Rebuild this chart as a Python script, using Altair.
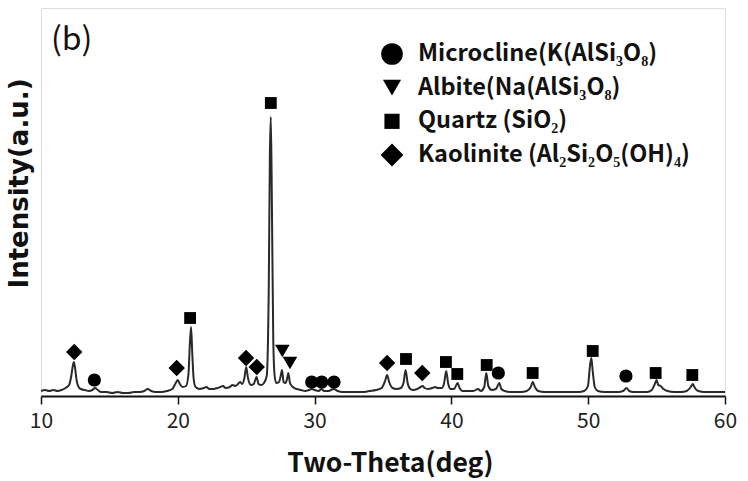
import altair as alt
import pandas as pd

# XRD trace (2-theta in degrees, intensity in a.u.)
two_theta = [
    10.0, 10.3, 10.6, 10.9, 11.2, 11.5, 11.8, 12.05, 12.2, 12.3, 12.4, 12.5, 12.6, 12.75, 12.9,
    13.2, 13.5, 13.75, 13.95, 14.15, 14.4, 14.8, 15.2, 15.6, 16.0, 16.4, 16.8, 17.2, 17.55, 17.8,
    18.05, 18.4, 18.8, 19.2, 19.6, 19.85, 20.0, 20.15, 20.35, 20.6, 20.78, 20.88, 20.97, 21.06, 21.16,
    21.3, 21.6, 21.9, 22.1, 22.3, 22.6, 22.9, 23.1, 23.3, 23.5, 23.8, 24.0, 24.2, 24.4, 24.55,
    24.7, 24.87, 25.0, 25.13, 25.35, 25.55, 25.76, 25.9, 26.1, 26.3, 26.5, 26.65, 26.73, 26.8, 26.88,
    26.98, 27.08, 27.2, 27.4, 27.52, 27.62, 27.73, 27.88, 28.0, 28.08, 28.2, 28.4, 28.7, 29.0, 29.3,
    29.6, 29.8, 30.0, 30.3, 30.5, 30.7, 31.0, 31.4, 31.7, 32.0, 32.5, 33.0, 33.5, 34.0, 34.5,
    34.9, 35.15, 35.3, 35.45, 35.7, 36.0, 36.3, 36.5, 36.65, 36.8, 37.0, 37.2, 37.5, 37.75, 37.9,
    38.05, 38.3, 38.6, 38.8, 39.0, 39.3, 39.47, 39.62, 39.77, 39.95, 40.2, 40.45, 40.6, 40.8, 41.2,
    41.6, 41.95, 42.15, 42.4, 42.55, 42.7, 42.95, 43.25, 43.5, 43.65, 43.9, 44.3, 44.7, 45.1, 45.5,
    45.8, 45.95, 46.1, 46.35, 46.8, 47.3, 47.8, 48.3, 48.8, 49.3, 49.7, 49.98, 50.13, 50.23, 50.33,
    50.48, 50.7, 51.2, 51.7, 52.2, 52.55, 52.8, 53.0, 53.3, 53.8, 54.3, 54.65, 54.87, 55.0, 55.12,
    55.3, 55.5, 55.8, 56.3, 56.8, 57.2, 57.5, 57.65, 57.8, 58.05, 58.5, 59.0, 59.5, 60.0,
]
intensity = [
    5, 6, 5, 6, 5, 6, 8, 11, 19, 28, 34, 27, 16, 9, 7,
    6, 5, 6, 8, 6, 4, 4, 3, 4, 3, 3, 4, 4, 5, 7,
    5, 4, 4, 5, 7, 13, 16, 12, 9, 10, 22, 52, 69, 42, 17,
    9, 7, 8, 9, 7, 7, 8, 9, 10, 8, 9, 11, 10, 12, 14,
    12, 18, 29, 18, 11, 12, 19, 12, 11, 13, 20, 110, 240, 279, 190,
    55, 20, 13, 14, 20, 26, 14, 13, 18, 23, 13, 9, 7, 6, 5,
    6, 7, 6, 5, 7, 5, 5, 7, 5, 4, 4, 4, 4, 5, 6,
    8, 15, 21, 14, 8, 7, 8, 13, 26, 13, 7, 6, 7, 9, 10,
    8, 7, 8, 9, 8, 8, 13, 25, 12, 7, 7, 13, 8, 5, 5,
    5, 7, 5, 9, 23, 10, 6, 7, 13, 7, 5, 4, 4, 4, 5,
    9, 14, 9, 5, 4, 4, 4, 4, 4, 4, 5, 10, 30, 38, 25,
    9, 5, 4, 4, 4, 5, 8, 5, 4, 4, 4, 6, 12, 16, 11,
    10, 7, 5, 4, 4, 5, 9, 12, 8, 5, 4, 4, 4, 4,
]

# Phases (legend order)
phase_names = [
    "Microcline(K(AlSi\u2083O\u2088)",
    "Albite(Na(AlSi\u2083O\u2088)",
    "Quartz (SiO\u2082)",
    "Kaolinite (Al\u2082Si\u2082O\u2085(OH)\u2084)",
]

# Phase markers on the pattern
marker_phase = [0, 0, 0, 0, 0, 0,
                1, 1,
                2, 2, 2, 2, 2, 2, 2, 2, 2, 2,
                3, 3, 3, 3, 3, 3]
marker_2theta = [13.9, 29.79, 30.52, 31.42, 43.43, 52.76,
                 27.64, 28.2,
                 20.9, 26.8, 36.68, 39.6, 40.43, 42.58, 45.94, 50.33, 54.93, 57.61,
                 12.43, 19.92, 24.99, 25.77, 35.3, 37.87]
marker_height = [16, 14, 14, 14, 23, 20,
                 45, 33,
                 78, 293, 37, 34, 22, 31, 23, 45, 23, 21,
                 44, 28, 38, 29, 33, 23]

x_ticks = [10, 20, 30, 40, 50, 60]

# ---- styles ----
phase_shapes = ["circle", "triangle-down", "square", "diamond"]
plot_sizes = [175, 215, 140, 270]
legend_sizes = [470, 330, 230, 520]
LEGEND_FONT = "Noto Sans CJK KR"

line_df = pd.DataFrame({"two_theta": two_theta, "intensity": intensity})
mk_df = pd.DataFrame({
    "phase": [phase_names[i] for i in marker_phase],
    "two_theta": marker_2theta,
    "intensity": marker_height,
})
legend_df = pd.DataFrame({"phase": phase_names, "row": list(range(len(phase_names)))})

x_scale = alt.Scale(domain=[10, 60], nice=False, zero=False)
y_scale = alt.Scale(domain=[0, 388], nice=False, zero=False)
shape_scale = alt.Scale(domain=phase_names, range=phase_shapes)
row_scale = alt.Scale(type="point", domain=[0, 1, 2, 3], range=[46, 147], padding=0)

x_axis = alt.Axis(
    values=x_ticks, format="d", grid=False, domain=True, domainColor="#111", domainWidth=1.8,
    ticks=True, tickSize=8, tickColor="#111", tickWidth=1.5,
    labelFont="Noto Sans CJK KR", labelFontSize=21, labelColor="#222", labelPadding=6,
    labelFlush=False,
    title="Two-Theta(deg)", titleFont="Noto Sans CJK KR", titleFontSize=26.5, titleFontWeight="bold",
    titleColor="#111", titleBaseline="alphabetic", titleY=75, titleX=349, titleAnchor="middle",
)
y_axis = alt.Axis(
    ticks=False, labels=False, domain=False, grid=False,
    title="Intensity(a.u.)", titleFont="DejaVu Sans", titleFontSize=26, titleFontWeight="bold",
    titleColor="#111", titleBaseline="alphabetic", titleX=-14, titleY=175, titleAngle=270,
    titleAlign="center",
)

line = alt.Chart(line_df).mark_line(color="#2a2a2a", strokeWidth=2, interpolate="monotone").encode(
    x=alt.X("two_theta:Q", scale=x_scale, axis=x_axis),
    y=alt.Y("intensity:Q", scale=y_scale, axis=y_axis),
)

points = alt.Chart(mk_df).mark_point(filled=True, color="black", opacity=1).encode(
    x=alt.X("two_theta:Q", scale=x_scale),
    y=alt.Y("intensity:Q", scale=y_scale, axis=None),
    shape=alt.Shape("phase:N", scale=shape_scale, legend=None),
    size=alt.Size("phase:N", scale=alt.Scale(type="ordinal", domain=phase_names, range=plot_sizes),
                  legend=None),
)

legend_sym = alt.Chart(legend_df).mark_point(filled=True, color="black", opacity=1).encode(
    x=alt.value(351),
    y=alt.Y("row:O", scale=row_scale, axis=None),
    shape=alt.Shape("phase:N", scale=shape_scale, legend=None),
    size=alt.Size("phase:N", scale=alt.Scale(type="ordinal", domain=phase_names, range=legend_sizes),
                  legend=None),
)

legend_txt = alt.Chart(legend_df).mark_text(
    font=LEGEND_FONT, fontSize=23.5, fontWeight="bold", align="left", baseline="middle", color="#111"
).encode(
    x=alt.value(377),
    y=alt.Y("row:O", scale=row_scale, axis=None),
    text="phase:N",
)

label_b = alt.Chart(pd.DataFrame({"t": ["(b)"]})).mark_text(
    font="Noto Sans CJK KR", fontSize=32, align="left", baseline="middle", color="#111"
).encode(text="t:N", x=alt.value(10), y=alt.value(32))

chart = alt.layer(line, points, legend_sym, legend_txt, label_b).resolve_scale(
    y="independent", size="independent"
).properties(
    width=684, height=388,
    autosize=alt.AutoSizeParams(type="none"),
    padding={"left": 41, "top": 8, "right": 23, "bottom": 85},
).configure_view(stroke="#111", strokeWidth=1.5).configure(background="white")

chart.save("out.html", embed_options={"renderer": "svg", "actions": False})
